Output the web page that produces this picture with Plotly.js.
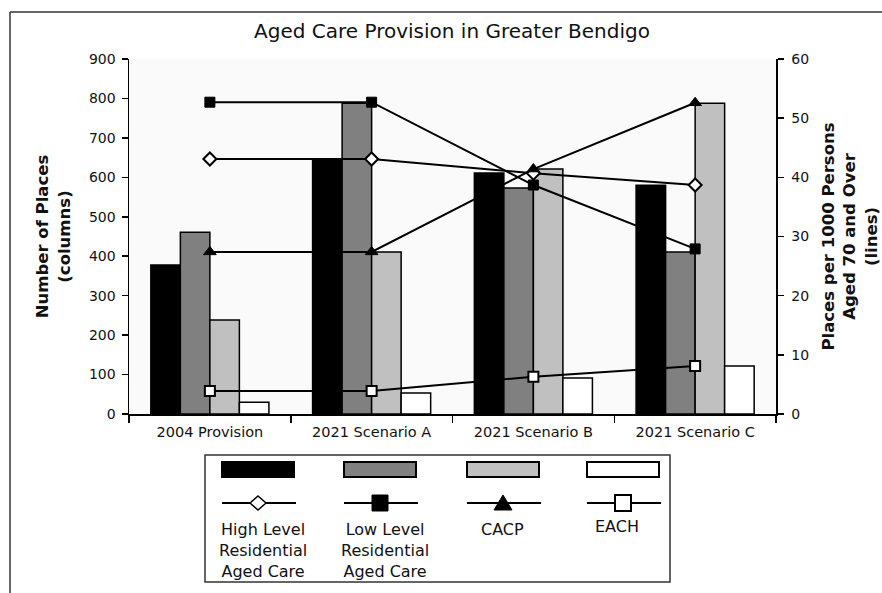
<!DOCTYPE html>
<html>
<head>
<meta charset="utf-8">
<script src="https://cdn.plot.ly/plotly-3.0.1.min.js"></script>
<style>
html,body{margin:0;padding:0;background:#fff;}
#chart{width:882px;height:593px;}
</style>
</head>
<body>
<div id="chart"></div>
<script>
// ---- data ----
const categories = ['2004 Provision', '2021 Scenario A', '2021 Scenario B', '2021 Scenario C'];
const seriesNames = ['High Level Residential Aged Care', 'Low Level Residential Aged Care', 'CACP', 'EACH'];
const legendLabels = ['High Level<br>Residential<br>Aged Care', 'Low Level<br>Residential<br>Aged Care', 'CACP', 'EACH'];
// Number of places (columns, left axis)
const highPlaces = [378, 646, 611, 580];
const lowPlaces  = [461, 788, 573, 411];
const cacpPlaces = [238, 411, 621, 788];
const eachPlaces = [30, 53, 91, 122];
// Places per 1000 persons aged 70 and over (lines, right axis)
const highRate = [43.1, 43.1, 40.7, 38.7];
const lowRate  = [52.7, 52.7, 38.7, 27.9];
const cacpRate = [27.4, 27.4, 41.4, 52.6];
const eachRate = [3.9, 3.9, 6.3, 8.1];
const leftTicks = [0, 100, 200, 300, 400, 500, 600, 700, 800, 900];
const rightTicks = [0, 10, 20, 30, 40, 50, 60];

// ---- styling ----
const W = 882, H = 593;
const FONT = 'DejaVu Sans';
const barColors = ['#000000', '#808080', '#c0c0c0', '#ffffff'];
const px = x => x / W;
const py = y => 1 - y / H;

const placeSeries = [highPlaces, lowPlaces, cacpPlaces, eachPlaces];
const rateSeries = [highRate, lowRate, cacpRate, eachRate];
const markerDefs = [
  {symbol: 'diamond', color: '#ffffff', size: 10, line: {color: '#000', width: 2}},
  {symbol: 'square', color: '#000000', size: 10, line: {color: '#000', width: 1}},
  {symbol: 'triangle-up', color: '#000000', size: 11, line: {color: '#000', width: 1}},
  {symbol: 'square', color: '#ffffff', size: 10, line: {color: '#000', width: 2}}
];

const traces = [];
placeSeries.forEach((vals, i) => {
  traces.push({
    type: 'bar', name: seriesNames[i] + ' (places)', x: categories, y: vals,
    xaxis: 'x', yaxis: 'y',
    marker: {color: barColors[i], line: {color: '#000', width: 1.5}},
    showlegend: false, hoverinfo: 'x+y'
  });
});
rateSeries.forEach((vals, i) => {
  traces.push({
    type: 'scatter', mode: 'lines+markers', name: seriesNames[i] + ' (per 1000)',
    x: categories, y: vals, xaxis: 'x', yaxis: 'y2',
    line: {color: '#000', width: 2},
    marker: markerDefs[i], showlegend: false, cliponaxis: false
  });
});

const xDom = [px(129), px(776)];
const yDom = [py(414), py(59)];

const tickFont = {family: FONT, size: 14, color: '#111'};
const titleFont = {family: FONT, size: 16.5, color: '#111', weight: 'bold'};

// ---- custom legend (table below chart) ----
const shapes = [];
const annotations = [];
// outer frame (top and left edges)
shapes.push({type: 'line', xref: 'paper', yref: 'paper', x0: px(10), x1: px(882), y0: py(12), y1: py(12), line: {color: '#333', width: 1.5}});
shapes.push({type: 'line', xref: 'paper', yref: 'paper', x0: px(10), x1: px(10), y0: py(12), y1: py(593), line: {color: '#333', width: 1.5}});
// legend box
shapes.push({type: 'rect', xref: 'paper', yref: 'paper', x0: px(205), x1: px(670), y0: py(455), y1: py(582), line: {color: '#333', width: 1.5}, fillcolor: 'rgba(0,0,0,0)'});
const colL = [222, 344, 467, 587];
const colR = [294, 416, 539, 659];
const textX = [263, 385, 502, 617];
for (let i = 0; i < 4; i++) {
  // bar swatch
  shapes.push({type: 'rect', xref: 'paper', yref: 'paper', x0: px(colL[i]), x1: px(colR[i]), y0: py(462), y1: py(477),
    fillcolor: barColors[i], line: {color: '#000', width: 2}});
  // line swatch
  shapes.push({type: 'line', xref: 'paper', yref: 'paper', x0: px(colL[i]), x1: px(colR[i] + 2), y0: py(503), y1: py(503),
    line: {color: '#000', width: 2}});
  annotations.push({xref: 'paper', yref: 'paper', x: px(textX[i]), y: py(i === 3 ? 515 : 518), xanchor: 'center', yanchor: 'top',
    text: legendLabels[i], showarrow: false, align: 'center', font: {family: FONT, size: 16, color: '#111'}});
}
// legend markers
function pathFrom(points) {
  return 'M ' + points.map(p => px(p[0]) + ',' + py(p[1])).join(' L ') + ' Z';
}
const cx = [258, 380, 503, 623], cy = 503;
shapes.push({type: 'path', xref: 'paper', yref: 'paper', path: pathFrom([[cx[0] - 8, cy], [cx[0], cy - 7], [cx[0] + 8, cy], [cx[0], cy + 7]]),
  fillcolor: '#fff', line: {color: '#000', width: 1.5}});
shapes.push({type: 'rect', xref: 'paper', yref: 'paper', x0: px(cx[1] - 8), x1: px(cx[1] + 8), y0: py(cy - 8), y1: py(cy + 8),
  fillcolor: '#000', line: {color: '#000', width: 1}});
shapes.push({type: 'path', xref: 'paper', yref: 'paper', path: pathFrom([[cx[2] - 9, cy + 7], [cx[2], cy - 8], [cx[2] + 9, cy + 7]]),
  fillcolor: '#000', line: {color: '#000', width: 1}});
shapes.push({type: 'rect', xref: 'paper', yref: 'paper', x0: px(cx[3] - 8), x1: px(cx[3] + 8), y0: py(cy - 8), y1: py(cy + 8),
  fillcolor: '#fff', line: {color: '#000', width: 2}});

const layout = {
  width: W, height: H,
  margin: {l: 0, r: 0, t: 0, b: 0, autoexpand: false},
  paper_bgcolor: '#ffffff', plot_bgcolor: '#fafafa',
  font: {family: FONT, color: '#111'},
  showlegend: false,
  barmode: 'group', bargap: 0.27, bargroupgap: 0,
  title: {text: 'Aged Care Provision in Greater Bendigo', font: {family: FONT, size: 20, color: '#111'},
    x: px(452), xanchor: 'center', xref: 'paper', y: py(31), yanchor: 'middle', yref: 'paper'},
  xaxis: {
    domain: xDom, anchor: 'y', type: 'category', categoryarray: categories,
    showline: true, linecolor: '#000', linewidth: 1.5,
    ticks: 'outside', tickson: 'boundaries', ticklen: 7, tickwidth: 1.5, tickcolor: '#000',
    tickfont: {family: FONT, size: 14.5, color: '#111'}, ticklabelstandoff: 4,
    showgrid: false, zeroline: false, automargin: false
  },
  xaxis3: {
    overlaying: 'x', anchor: 'y', range: [0, 4], dtick: 1, tick0: 0,
    ticks: 'inside', ticklen: 6, tickwidth: 1.5, tickcolor: '#000',
    showticklabels: false, showgrid: false, zeroline: false, showline: false, automargin: false
  },
  yaxis: {
    domain: yDom, anchor: 'x', range: [0, 900], tickvals: leftTicks,
    showline: true, linecolor: '#000', linewidth: 1.5,
    ticks: 'outside', ticklen: 6, tickwidth: 1.5, tickcolor: '#000',
    tickfont: tickFont, ticklabelstandoff: 3,
    showgrid: false, zeroline: false, automargin: false,
    title: {text: 'Number of Places<br>(columns)', font: titleFont, standoff: 14}
  },
  yaxis3: {
    overlaying: 'y', anchor: 'x', side: 'left', range: [0, 900], tickvals: leftTicks,
    ticks: 'inside', ticklen: 6, tickwidth: 1.5, tickcolor: '#000',
    showticklabels: false, showgrid: false, zeroline: false, showline: false, automargin: false
  },
  yaxis2: {
    overlaying: 'y', anchor: 'x', side: 'right', range: [0, 60], tickvals: rightTicks,
    showline: true, linecolor: '#000', linewidth: 1.5,
    ticks: 'outside', ticklen: 6, tickwidth: 1.5, tickcolor: '#000',
    tickfont: tickFont, ticklabelstandoff: 5,
    showgrid: false, zeroline: false, automargin: false,
    title: {text: 'Places per 1000 Persons<br>Aged 70 and Over<br>(lines)', font: titleFont, standoff: 14}
  },
  yaxis4: {
    overlaying: 'y', anchor: 'x', side: 'right', range: [0, 60], tickvals: rightTicks,
    ticks: 'inside', ticklen: 6, tickwidth: 1.5, tickcolor: '#000',
    showticklabels: false, showgrid: false, zeroline: false, showline: false, automargin: false
  },
  shapes: shapes,
  annotations: annotations
};

Plotly.newPlot('chart', traces, layout, {displayModeBar: false, staticPlot: true});
</script>
</body>
</html>
